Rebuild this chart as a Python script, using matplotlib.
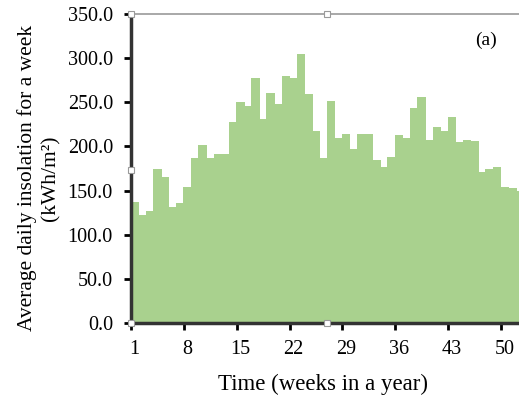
import matplotlib
matplotlib.use("Agg")
import matplotlib.pyplot as plt
import numpy as np

weeks = list(range(1, 53))
insolation = [137, 122, 126, 174, 165, 131, 135, 153, 186, 201,
              186, 191, 191, 227, 250, 245, 277, 231, 260, 248,
              279, 277, 304, 259, 217, 186, 251, 209, 214, 196,
              214, 214, 184, 176, 188, 212, 209, 243, 255, 207,
              222, 217, 233, 205, 207, 206, 171, 174, 176, 153,
              152, 149]
xtick_labels = ["1", "8", "15", "22", "29", "36", "43", "50"]
ytick_values = [0, 50, 100, 150, 200, 250, 300, 350]

plt.rcParams['font.family'] = ['Liberation Serif', 'DejaVu Serif']

fig = plt.figure(figsize=(5.19, 4.0), dpi=100)
ax = fig.add_axes([131/519, 77/400, 388/519, 309/400])

bars = ax.bar(weeks, insolation, width=1.0, color="#A9D18E", edgecolor="none",
              linewidth=0, antialiased=False, zorder=2)
for b in bars:
    b.set_snap(False)

ax.set_xlim(0.5, 0.5 + 388/7.55)
ax.set_ylim(0, 350)

# x ticks: marks at category boundaries, labels at category centers
label_pos = [int(l) for l in xtick_labels]
ax.set_xticks([p - 0.5 for p in label_pos])
ax.set_xticklabels([])
ax.set_xticks(label_pos, minor=True)
ax.set_xticklabels(xtick_labels, minor=True)
ax.tick_params(axis='x', which='major', direction='out', length=5, width=2, color='black')
ax.tick_params(axis='x', which='minor', length=0, labelsize=14.5, pad=12)

ax.set_yticks(ytick_values)
ax.set_yticklabels([f"{v:.1f}" for v in ytick_values])
ax.tick_params(axis='y', direction='out', length=5, width=2, color='black', labelsize=14.5, pad=8)

ax.spines['right'].set_visible(False)
ax.spines['top'].set_color('#999999')
ax.spines['top'].set_linewidth(1.2)
ax.spines['left'].set_color('#333333')
ax.spines['left'].set_linewidth(2.5)
ax.spines['bottom'].set_color('#333333')
ax.spines['bottom'].set_linewidth(2.5)
for s in ax.spines.values():
    s.set_zorder(3)

ax.set_xlabel("Time (weeks in a year)", fontsize=16.5)
ax.xaxis.set_label_coords(0.495, -0.163)
ax.set_ylabel("Average daily insolation for a week\n(kWh/m\u00b2)", fontsize=15.5,
              linespacing=1.25)
ax.yaxis.set_label_coords(-0.183, 0.47)

ax.text(0.915, 0.914, "(a)", transform=ax.transAxes, fontsize=14, ha='center', va='center')

# selection handles
hx = [0, 0.505, 0, 0, 0.505]
hy = [1, 1, 0.495, 0, 0]
ax.plot(hx, hy, linestyle='none', marker='s', markersize=4, markerfacecolor='white',
        markeredgecolor='#9a9a9a', markeredgewidth=0.8, transform=ax.transAxes,
        clip_on=False, zorder=5)

fig.savefig("out.png", dpi=100)
